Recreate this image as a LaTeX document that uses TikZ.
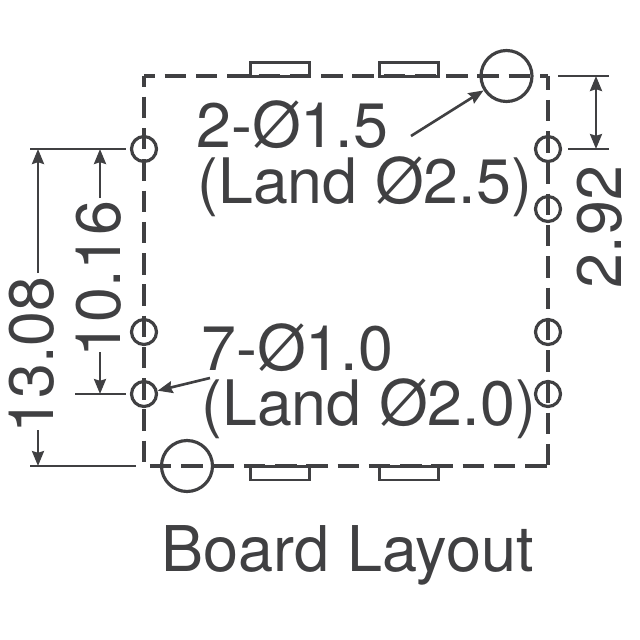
\documentclass[tikz,border=0pt]{standalone}
\usepackage{fontspec}
\setmainfont{TeX Gyre Heros}
\usetikzlibrary{arrows.meta}
\definecolor{inkgray}{HTML}{404042}

\begin{document}
\begin{tikzpicture}[x=0.02cm, y=-0.02cm, inkgray, >={Stealth[length=8.5pt,width=6.8pt,inset=1pt]},
    small hole/.style={circle,draw,line width=1.8pt,minimum size=0.5cm,inner sep=0pt},
    big hole/.style={circle,draw,line width=1.8pt,minimum size=1.02cm,inner sep=0pt},
    outline/.style={line width=2pt,dash pattern=on 12.2pt off 5.6pt},
    dim line/.style={line width=1.5pt},
    tab box/.style={draw,line width=1.7pt,minimum width=1.17cm,minimum height=0.28cm,inner sep=0pt},
    big text/.style={font=\fontsize{35.7}{36}\selectfont,text=inkgray,inner sep=0pt}]

    \useasboundingbox (0,0) rectangle (640,640);

    % board corners
    \coordinate (tl) at (144,76);
    \coordinate (tr) at (548,76);
    \coordinate (br) at (548,466);
    \coordinate (bl) at (144,466);

    \draw[outline, dash phase=6pt] (tl) -- (tr);
    \draw[outline, dash phase=6pt] (tl) -- (bl);
    \draw[outline, dash phase=4.2pt] (tr) -- (br);
    \draw[outline, dash phase=14.4pt] (bl) -- (br);

    % tabs
    \node[tab box] at (280,69.5) (tab1) {};
    \node[tab box] at (409,69.5) (tab2) {};
    \node[tab box] at (280,473) (tab3) {};
    \node[tab box] at (409,473) (tab4) {};

    % holes
    \foreach \name/\x/\y in {l1/144/149, l2/144/332, l3/144/394, r1/548/149, r2/548/209, r3/548/332, r4/548/394} {
        \node[small hole] at (\x,\y) (\name) {};
    }
    \node[big hole] at (506.5,76) (b1) {};
    \node[big hole] at (187,466) (b2) {};

    % labels
    \node[big text, anchor=base west] at (196,147) (t1) {2-Ø1.5};
    \node[big text, anchor=base west] at (197,203) (t2) {(Land Ø2.5)};
    \node[big text, anchor=base west] at (201,370) (t3) {7-Ø1.0};
    \node[big text, anchor=base west] at (201,425) (t4) {(Land Ø2.0)};
    \node[big text, font=\fontsize{35.9}{36}\selectfont, anchor=base west] at (161,571) (t5) {Board Layout};
    \node[big text, rotate=90] at (600,227) (d1) {2.92};
    \node[big text, rotate=90] at (99,279) (d2) {10.16};
    \node[big text, rotate=90] at (32,355) (d3) {13.08};

    % leaders
    \coordinate (a1) at (411,136);
    \coordinate (a2) at (210,378);
    \draw[dim line, ->] (a1) -- (b1);
    \draw[dim line, ->] (a2) -- (l3);

    % extension lines
    \coordinate (e1a) at (558,76);   \coordinate (e1b) at (609,76);
    \coordinate (e2a) at (568,149);  \coordinate (e2b) at (609,149);
    \coordinate (e3a) at (30,149);   \coordinate (e3b) at (126,149);
    \coordinate (e4a) at (75,394);   \coordinate (e4b) at (126,394);
    \coordinate (e5a) at (30,466);   \coordinate (e5b) at (136,466);
    \draw[dim line] (e1a) -- (e1b);
    \draw[dim line] (e2a) -- (e2b);
    \draw[dim line] (e3a) -- (e3b);
    \draw[dim line] (e4a) -- (e4b);
    \draw[dim line] (e5a) -- (e5b);

    % dimension arrows
    \coordinate (m1a) at (596,76);  \coordinate (m1b) at (596,149);
    \draw[dim line, <->] (m1a) -- (m1b);
    \coordinate (m2a) at (100,198); \coordinate (m2b) at (100,149);
    \draw[dim line, ->] (m2a) -- (m2b);
    \coordinate (m3a) at (100,352); \coordinate (m3b) at (100,394);
    \draw[dim line, ->] (m3a) -- (m3b);
    \coordinate (m4a) at (38,273);  \coordinate (m4b) at (38,149);
    \draw[dim line, ->] (m4a) -- (m4b);
    \coordinate (m5a) at (38,430);  \coordinate (m5b) at (38,466);
    \draw[dim line, ->] (m5a) -- (m5b);

\end{tikzpicture}
\end{document}
